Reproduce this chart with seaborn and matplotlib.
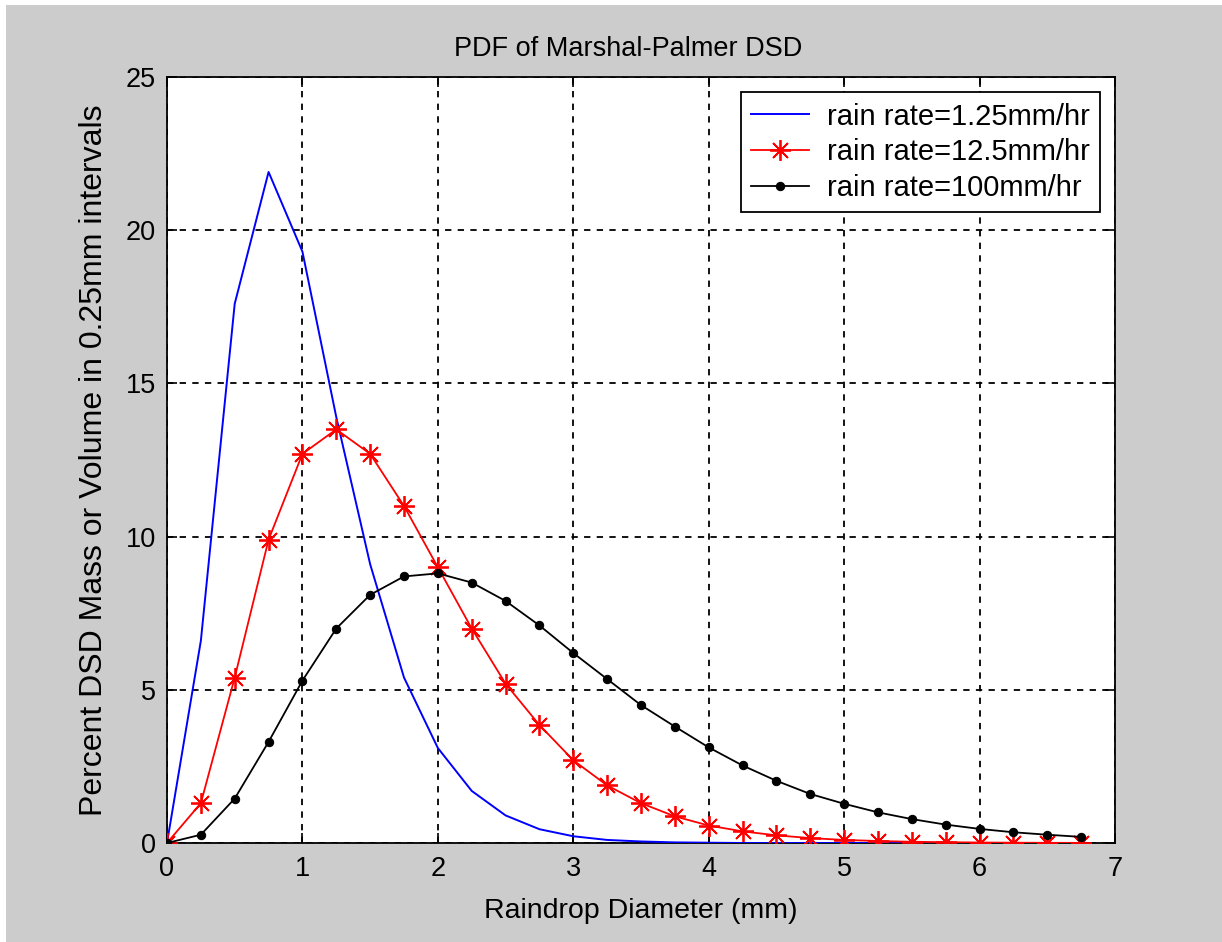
import numpy as np
import pandas as pd
import matplotlib
matplotlib.use("Agg")
import matplotlib.pyplot as plt
import seaborn as sns
from matplotlib.patches import Rectangle

# ---- data ----
diameter = [0.0, 0.25, 0.5, 0.75, 1.0, 1.25, 1.5, 1.75, 2.0, 2.25, 2.5, 2.75,
            3.0, 3.25, 3.5, 3.75, 4.0, 4.25, 4.5, 4.75, 5.0, 5.25, 5.5, 5.75,
            6.0, 6.25, 6.5, 6.75]
rate_1_25 = [0.0, 6.6, 17.6, 21.9, 19.3, 13.9, 9.1, 5.4, 3.1, 1.7, 0.9, 0.45,
             0.22, 0.1, 0.05, 0.02, 0.01, 0.0, 0.0, 0.0, 0.0, 0.0, 0.0, 0.0,
             0.0, 0.0, 0.0, 0.0]
rate_12_5 = [0.0, 1.3, 5.4, 9.9, 12.7, 13.5, 12.7, 11.0, 9.0, 7.0, 5.2, 3.85,
             2.7, 1.88, 1.3, 0.87, 0.57, 0.38, 0.25, 0.16, 0.1, 0.065, 0.04,
             0.026, 0.016, 0.01, 0.006, 0.004]
rate_100 = [0.0, 0.27, 1.45, 3.3, 5.3, 7.0, 8.1, 8.7, 8.8, 8.5, 7.9, 7.1,
            6.2, 5.35, 4.5, 3.8, 3.12, 2.53, 2.03, 1.6, 1.28, 1.0, 0.78, 0.6,
            0.46, 0.35, 0.27, 0.2]
labels = ["rain rate=1.25mm/hr", "rain rate=12.5mm/hr", "rain rate=100mm/hr"]
x_ticks = [0, 1, 2, 3, 4, 5, 6, 7]
y_ticks = [0, 5, 10, 15, 20, 25]

plt.rcParams["font.family"] = ["Liberation Sans", "DejaVu Sans"]

fig = plt.figure(figsize=(12.22, 9.42), dpi=100, facecolor="#cccccc")
# thin white strips along the top and left edges
fig.patches.append(Rectangle((0, 0), 6 / 1222, 1, transform=fig.transFigure,
                             facecolor="white", edgecolor="none", zorder=-5))
fig.patches.append(Rectangle((0, 1 - 5 / 942), 1, 5 / 942, transform=fig.transFigure,
                             facecolor="white", edgecolor="none", zorder=-5))
ax = fig.add_axes([167 / 1222, 99 / 942, (1115 - 167) / 1222, (843 - 77) / 942])
ax.set_facecolor("white")

sns.lineplot(x=diameter, y=rate_1_25, ax=ax, color="#0000ff", linewidth=1.4,
             label=labels[0], zorder=3)
sns.lineplot(x=diameter, y=rate_12_5, ax=ax, color="#ff0000", linewidth=1.3,
             marker=(8, 2, 0), markersize=15, markeredgewidth=1.3,
             markeredgecolor="#ff0000", label=labels[1], zorder=4)
sns.lineplot(x=diameter, y=rate_100, ax=ax, color="black", linewidth=1.3,
             marker="o", markersize=6, markeredgecolor="black",
             markerfacecolor="black", label=labels[2], zorder=5)

ax.set_xlim(0, 7)
ax.set_ylim(0, 25)
ax.set_xticks(x_ticks)
ax.set_yticks(y_ticks)
ax.set_xticklabels([str(t) for t in x_ticks])
ax.set_yticklabels([str(t) for t in y_ticks])
ax.grid(True, color="black", linestyle=(0, (3.5, 3.5)), linewidth=1.3)
ax.set_axisbelow(True)
ax.tick_params(direction="in", top=True, right=True, length=7, width=1.2,
               colors="black", labelsize=19.5)
ax.tick_params(axis="x", pad=9)
ax.tick_params(axis="y", pad=8)
for s in ax.spines.values():
    s.set_color("black")
    s.set_linewidth(1.3)

ax.set_title("PDF of Marshal-Palmer DSD", fontsize=19.5, pad=15, x=0.486)
ax.set_xlabel("Raindrop Diameter (mm)", fontsize=20.5, labelpad=12)
ax.set_ylabel("Percent DSD Mass or Volume in 0.25mm intervals", fontsize=23,
              labelpad=12)

leg = ax.legend(loc="upper right", bbox_to_anchor=(0.984, 0.980), fontsize=21,
                frameon=True, fancybox=False, framealpha=1, edgecolor="black",
                borderpad=0.35, labelspacing=0.27, handlelength=2.0,
                handletextpad=0.6, borderaxespad=0)
leg.get_frame().set_linewidth(1.3)

fig.savefig("out.png", dpi=100, facecolor=fig.get_facecolor())
